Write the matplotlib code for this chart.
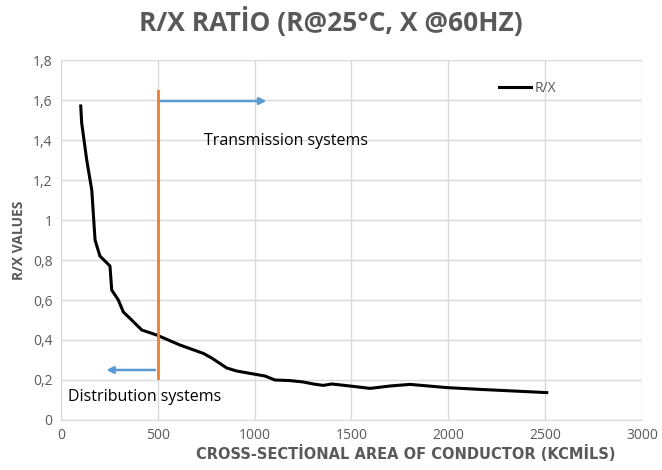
import numpy as np
import matplotlib
matplotlib.use("Agg")
import matplotlib.pyplot as plt
from matplotlib.ticker import FuncFormatter

# values
kcmil = [102, 107, 133, 159, 176, 201, 253, 262, 296, 322, 365, 417, 494,
         614, 735, 778, 856, 907, 976, 1053, 1105, 1183, 1251, 1303, 1354,
         1398, 1492, 1596, 1699, 1802, 1992, 2164, 2336, 2508]
rx = [1.57, 1.485, 1.30, 1.15, 0.90, 0.82, 0.77, 0.65, 0.60, 0.54, 0.50,
      0.45, 0.425, 0.375, 0.333, 0.31, 0.26, 0.245, 0.233, 0.22, 0.20,
      0.197, 0.19, 0.18, 0.173, 0.18, 0.17, 0.158, 0.17, 0.178, 0.162,
      0.153, 0.145, 0.137]

boundary = 500
grey = "#595959"

plt.rcParams['font.family'] = ['Open Sans', 'DejaVu Sans']
fig = plt.figure(figsize=(6.62, 4.70), dpi=100)
ax = fig.add_axes([0.0921, 0.1064, 0.8777, 0.7659])

ax.plot(kcmil, rx, color="black", lw=2.2, label="R/X")
ax.plot([boundary, boundary], [0.21, 1.645], color="#ed7d31", lw=2)

ax.annotate("", xy=(1075, 1.595), xytext=(boundary, 1.595),
            arrowprops=dict(arrowstyle="-|>", color="#5b9bd5", lw=1.8, mutation_scale=10))
ax.annotate("", xy=(220, 0.25), xytext=(boundary, 0.25),
            arrowprops=dict(arrowstyle="-|>", color="#5b9bd5", lw=1.8, mutation_scale=10))
ax.text(740, 1.395, "Transmission systems", fontsize=11.5, va="center", color="black")
ax.text(35, 0.115, "Distribution systems", fontsize=11.5, va="center", color="black")

ax.set_xlim(0, 3000)
ax.set_ylim(0, 1.8)
ax.set_xticks(np.arange(0, 3001, 500))
ax.set_yticks(np.arange(0, 1.81, 0.2))
ax.yaxis.set_major_formatter(FuncFormatter(lambda v, p: ("%g" % round(v, 1)).replace(".", ",")))
ax.grid(True, color="#d9d9d9", lw=1)
ax.set_axisbelow(True)
for s in ["top", "right", "left"]:
    ax.spines[s].set_visible(False)
ax.spines["bottom"].set_color("#d9d9d9")
ax.tick_params(length=0, labelsize=10, colors=grey, pad=6)

ax.set_ylabel("R/X VALUES", fontsize=10, fontweight="bold", color=grey, labelpad=5)
fig.text(0.613, 0.018, "CROSS-SECTİONAL AREA OF CONDUCTOR (KCMİLS)", ha="center",
         va="bottom", fontsize=10.5, fontweight="bold", color=grey,
         family=['DejaVu Sans'])

leg = ax.legend(loc="center right", bbox_to_anchor=(0.852, 0.922), frameon=False,
                fontsize=10, handlelength=2.3, handletextpad=0.25, borderaxespad=0,
                borderpad=0)
for t in leg.get_texts():
    t.set_color(grey)

fig.text(0.5, 0.953, "R/X RATİO (R@25°C, X @60HZ)", ha="center", va="center",
         fontsize=19, fontweight="bold", color=grey)

fig.savefig("out.png", dpi=100)
